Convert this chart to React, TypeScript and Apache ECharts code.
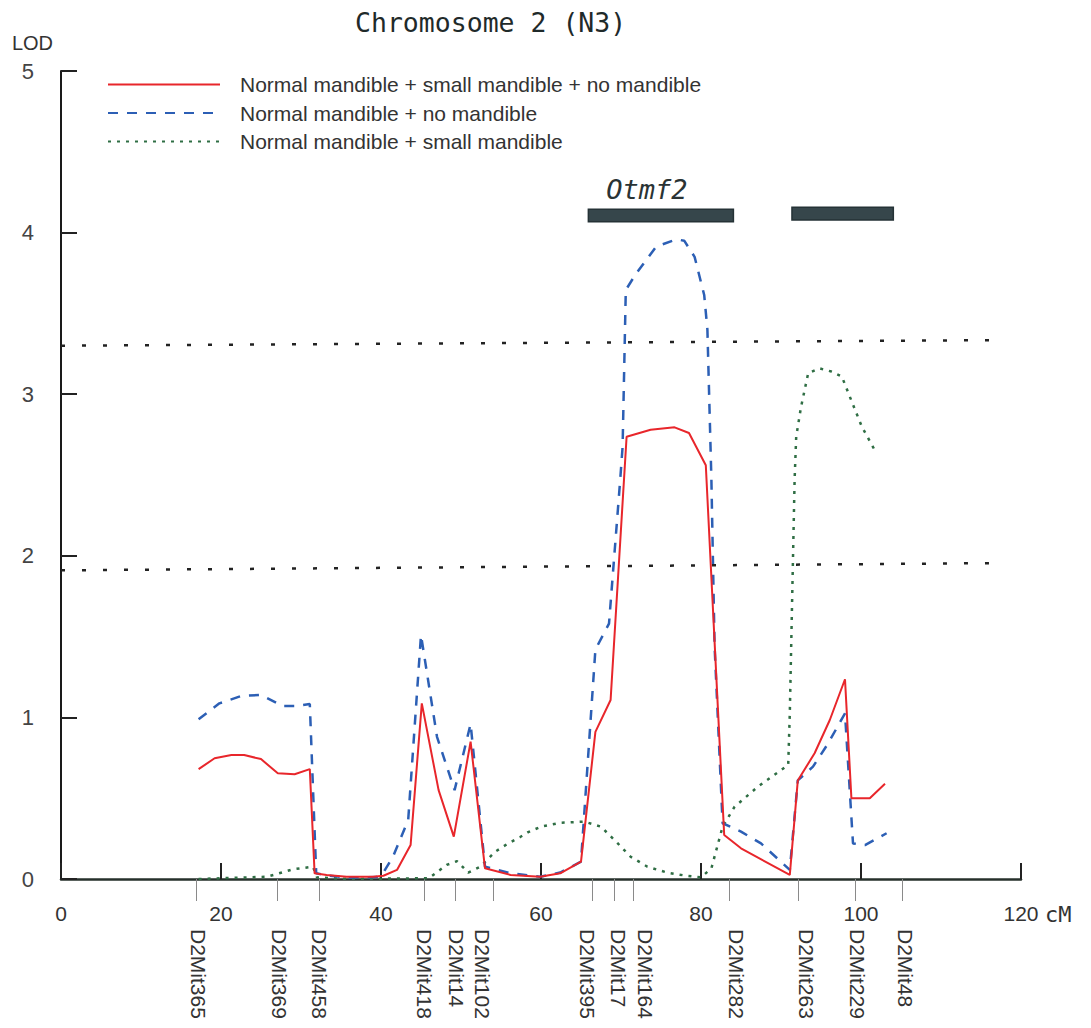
import React, { useEffect, useRef } from "react";
import * as echarts from "echarts";

const titleText = "Chromosome 2 (N3)";
const seriesNames = [
  "Normal mandible + small mandible + no mandible",
  "Normal mandible + no mandible",
  "Normal mandible + small mandible",
];

const xTickValues = [0, 20, 40, 60, 80, 100, 120];
const yTickValues = [0, 1, 2, 3, 4, 5];

// [cM, LOD]
const redData = [
  [17.2, 0.68], [19.2, 0.747], [21.3, 0.767], [22.9, 0.767], [25.0, 0.742], [27.1, 0.654],
  [29.2, 0.648], [31.1, 0.68], [31.7, 0.035], [33.2, 0.025], [35.7, 0.014], [39.0, 0.014],
  [40.3, 0.02], [42.0, 0.056], [43.7, 0.21], [45.1, 1.087], [47.2, 0.55], [49.1, 0.262],
  [51.2, 0.85], [53.0, 0.066], [56.2, 0.025], [59.9, 0.014], [62.4, 0.035], [65.0, 0.107],
  [66.8, 0.91], [68.7, 1.108], [70.7, 2.737], [73.7, 2.78], [76.7, 2.795], [78.5, 2.76],
  [80.6, 2.56], [82.9, 0.272], [85.0, 0.19], [91.1, 0.025], [92.1, 0.61], [94.2, 0.778],
  [96.1, 0.984], [98.0, 1.236], [98.8, 0.5], [101.1, 0.5], [103.0, 0.59],
];

const blueData = [
  [17.2, 0.988], [19.8, 1.087], [22.5, 1.132], [25.0, 1.139], [27.7, 1.07], [29.4, 1.07],
  [31.1, 1.083], [31.9, 0.035], [33.5, 0.02], [36.0, 0.01], [39.5, 0.012], [40.3, 0.04],
  [41.5, 0.138], [43.4, 0.365], [45.0, 1.51], [47.0, 0.88], [49.2, 0.55], [51.2, 0.96],
  [53.0, 0.076], [56.2, 0.035], [59.9, 0.014], [62.4, 0.04], [65.0, 0.107], [66.8, 1.42],
  [68.5, 1.58], [69.9, 2.47], [70.2, 2.675], [70.6, 3.645], [71.8, 3.74], [74.4, 3.913],
  [76.9, 3.958], [77.9, 3.95], [79.2, 3.85], [80.4, 3.614], [80.8, 3.4], [81.3, 2.47],
  [81.7, 1.437], [82.7, 0.345], [85.0, 0.293], [87.5, 0.22], [91.1, 0.056], [92.1, 0.61],
  [94.0, 0.695], [95.9, 0.84], [98.0, 1.025], [99.0, 0.22], [100.5, 0.21], [103.2, 0.283],
];

const greenData = [
  [17.2, 0.0], [25.7, 0.014], [26.9, 0.03], [29.0, 0.06], [31.5, 0.076], [32.0, 0.01],
  [36.0, 0.0], [46.0, 0.005], [48.2, 0.087], [49.5, 0.11], [50.9, 0.04], [52.4, 0.076],
  [54.3, 0.17], [55.8, 0.217], [57.4, 0.26], [58.4, 0.29], [60.0, 0.324], [62.4, 0.348],
  [65.4, 0.355], [67.5, 0.324], [69.6, 0.22], [71.2, 0.138], [73.3, 0.076], [75.8, 0.039],
  [78.3, 0.019], [80.0, 0.01], [81.3, 0.066], [82.7, 0.324], [84.2, 0.447], [87.1, 0.571],
  [90.9, 0.705], [91.1, 1.025], [91.7, 2.47], [91.9, 2.737], [92.5, 2.92], [93.4, 3.13],
  [94.8, 3.16], [96.3, 3.14], [97.6, 3.11], [98.8, 2.96], [100.1, 2.8], [101.7, 2.655],
];

const markerNames = [
  "D2Mit365", "D2Mit369", "D2Mit458", "D2Mit418", "D2Mit14", "D2Mit102", "D2Mit395",
  "D2Mit17", "D2Mit164", "D2Mit282", "D2Mit263", "D2Mit229", "D2Mit48",
];
const markerPos = [16.94, 26.97, 32.25, 45.35, 49.3, 54.0, 66.46, 69.1, 71.5, 83.5, 92.2, 99.3, 105.2];
const markerLabelPos = [17.24, 27.3, 32.35, 45.4, 49.4, 52.7, 65.8, 69.7, 73.1, 84.4, 93.2, 99.6, 105.6];

// threshold lines: LOD at left end and right end (scan is slightly tilted)
const thresholdLeft = [3.3, 1.91];
const thresholdRight = [3.335, 1.955];
const thresholdEndX = 117.4;

// QTL interval bars
const qtlNames = ["Otmf2", ""];
const qtlStart = [65.92, 91.37];
const qtlEnd = [84.05, 104.04];
const qtlTop = [4.144, 4.157];
const qtlBottom = [4.067, 4.078];

const SANS = "'Liberation Sans', Arial, sans-serif";
const MONO = "'DejaVu Sans Mono', 'Liberation Mono', monospace";

export default function App() {
  const ref = useRef<HTMLDivElement>(null);

  useEffect(() => {
    if (!ref.current) return;
    document.body.style.margin = "0";
    const chart = echarts.init(ref.current, undefined, { renderer: "svg" });

    const markAreaData = qtlNames.map((n, i) => [
      {
        name: n,
        xAxis: qtlStart[i],
        yAxis: qtlTop[i],
        label: n
          ? {
              show: true,
              position: "top",
              distance: 6,
              offset: [-14, 0],
              formatter: n,
              fontFamily: MONO,
              fontStyle: "italic",
              fontSize: 27,
              color: "#2a3334",
            }
          : { show: false },
      },
      { xAxis: qtlEnd[i], yAxis: qtlBottom[i] },
    ]);

    const markLineData = thresholdLeft.map((v, i) => [
      { coord: [0, v] },
      { coord: [thresholdEndX, thresholdRight[i]] },
    ]);

    const option = {
      animation: false,
      backgroundColor: "#ffffff",
      tooltip: { show: false },
      title: {
        text: titleText,
        left: 350,
        top: 4,
        textStyle: {
          fontFamily: MONO,
          fontSize: 26.5,
          fontWeight: "normal",
          color: "#1f2a2a",
        },
      },
      legend: {
        orient: "vertical",
        left: 102,
        top: 69,
        itemWidth: 112,
        itemHeight: 14,
        itemGap: 7.5,
        selectedMode: false,
        data: seriesNames,
        itemStyle: { opacity: 0 },
        textStyle: {
          fontFamily: SANS,
          fontSize: 21,
          lineHeight: 21,
          color: "#333",
          padding: [0, 0, 0, 15],
        },
      },
      grid: { left: 61, right: 70, top: 71, bottom: 149, outerBoundsMode: "none", containLabel: false },
      xAxis: [
        {
          type: "value",
          min: 0,
          max: 120,
          interval: 20,
          name: "cM",
          nameLocation: "end",
          nameGap: 24,
          nameTextStyle: {
            fontFamily: MONO,
            fontSize: 22,
            color: "#333",
            verticalAlign: "top",
            padding: [24, 0, 0, 0],
          },
          axisLine: { show: true, onZero: false, lineStyle: { color: "#26302b", width: 2.5 } },
          axisTick: { show: true, inside: true, length: 16, lineStyle: { color: "#222", width: 2 } },
          axisLabel: {
            margin: 24,
            fontSize: 21,
            fontFamily: SANS,
            color: "#333",
            formatter: (v: number) => (xTickValues.includes(v) ? String(v) : ""),
          },
          splitLine: { show: false },
        },
        {
          type: "value",
          min: 0,
          max: 120,
          position: "bottom",
          axisLine: { show: false, onZero: false },
          axisTick: {
            show: true,
            inside: false,
            length: 22,
            customValues: markerPos,
            lineStyle: { color: "#8a8a8a", width: 1 },
          },
          axisLabel: {
            show: true,
            customValues: markerLabelPos,
            rotate: -90,
            margin: 50,
            fontFamily: SANS,
            fontSize: 21,
            color: "#333",
            formatter: (v: number) => {
              const i = markerLabelPos.findIndex((p) => Math.abs(p - v) < 1e-6);
              return i >= 0 ? markerNames[i] : "";
            },
          },
          splitLine: { show: false },
        },
      ],
      yAxis: {
        type: "value",
        min: 0,
        max: 5,
        interval: 1,
        name: "LOD",
        nameLocation: "end",
        nameGap: 18,
        nameTextStyle: {
          align: "right",
          padding: [0, 8, 0, 0],
          fontFamily: SANS,
          fontSize: 20,
          color: "#333",
        },
        axisLine: { show: true, lineStyle: { color: "#1a1a1a", width: 2 } },
        axisTick: { show: true, inside: true, length: 16, lineStyle: { color: "#222", width: 2 } },
        axisLabel: {
          margin: 27,
          fontSize: 22,
          fontFamily: SANS,
          color: "#444",
          formatter: (v: number) => (yTickValues.includes(v) ? String(v) : ""),
        },
        splitLine: { show: false },
      },
      series: [
        {
          name: seriesNames[0],
          type: "line",
          data: redData,
          symbol: "none",
          z: 4,
          lineStyle: { color: "#e8262b", width: 2 },
          itemStyle: { color: "#e8262b" },
          markLine: {
            silent: true,
            symbol: ["none", "none"],
            label: { show: false },
            lineStyle: { color: "#222", type: [4, 17], width: 2.5 },
            data: markLineData,
          },
          markArea: {
            silent: true,
            itemStyle: { color: "#36464b", borderColor: "#253236", borderWidth: 1.5 },
            label: { show: false },
            data: markAreaData,
          },
        },
        {
          name: seriesNames[1],
          type: "line",
          data: blueData,
          symbol: "none",
          z: 3,
          lineStyle: { color: "#2c5fb5", width: 2.5, type: [10, 9] },
          itemStyle: { color: "#2c5fb5" },
        },
        {
          name: seriesNames[2],
          type: "line",
          data: greenData,
          symbol: "none",
          z: 2,
          lineStyle: { color: "#2f6e44", width: 2.5, type: [3, 6] },
          itemStyle: { color: "#2f6e44" },
        },
      ],
    };

    chart.setOption(option as any);
    return () => chart.dispose();
  }, []);

  return (
    <div
      ref={ref}
      style={{ position: "absolute", left: 0, top: 0, width: 1091, height: 1028, background: "#fff" }}
    />
  );
}
